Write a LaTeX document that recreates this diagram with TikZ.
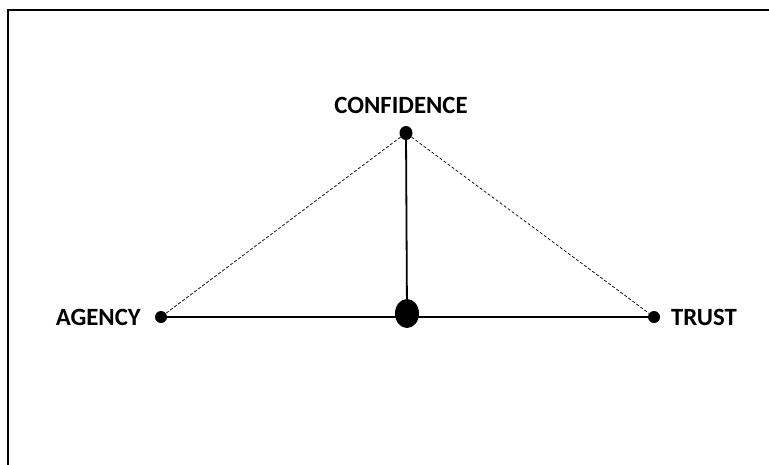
\documentclass[tikz,border=0pt]{standalone}
\usepackage{fontspec}
\setmainfont{Carlito}
\usetikzlibrary{shapes.geometric}
\begin{document}
\begin{tikzpicture}[x=1pt,y=-1pt,
  lbl/.style={font=\bfseries\fontsize{24.8}{26}\selectfont, inner sep=0pt},
  dot/.style={ellipse, fill=black, inner sep=0pt, minimum width=12pt, minimum height=12pt},
  solidline/.style={line width=1.8pt},
  dashline/.style={dashed, dash pattern=on 3pt off 2pt, line width=0.7pt}]
\useasboundingbox (0,0) rectangle (769,464);
\draw[line width=2pt] (8,520) -- (8,9.5) -- (800,9.5);
\node[dot] (agency) at (161,317) {};
\node[dot, minimum width=13pt, minimum height=14pt] (conf) at (406,133) {};
\node[dot] (trust) at (654,317) {};
\node[dot, minimum width=24pt, minimum height=29pt] (mid) at (407,313.5) {};
\coordinate (midline) at (407,317);
\draw[solidline] (agency) -- (midline) -- (trust);
\draw[solidline] (conf) -- (mid);
\draw[dashline] (conf) -- (agency);
\draw[dashline] (conf) -- (trust);
\node[lbl] (tconf) at (401,105) {CONFIDENCE};
\node[lbl, anchor=east] (tag) at (141,317) {AGENCY};
\node[lbl, anchor=west] (ttr) at (671,317) {TRUST};
\end{tikzpicture}
\end{document}
